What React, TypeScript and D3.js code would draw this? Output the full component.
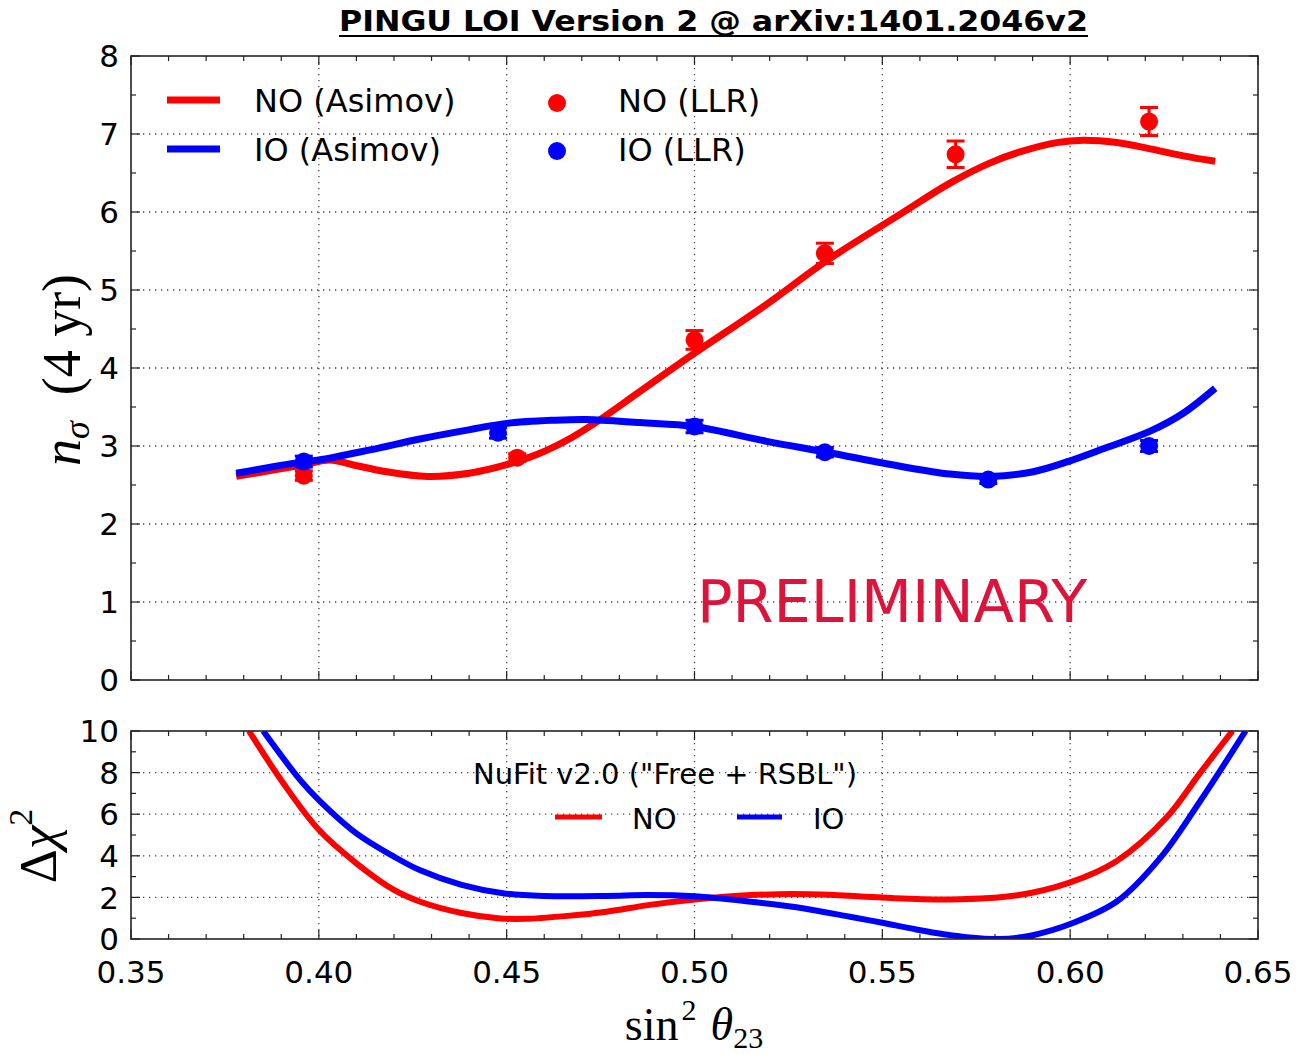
import React from "react";
import * as d3 from "d3";

// ---------- data ----------
const noAsimovX = [0.378, 0.396, 0.403, 0.409, 0.418, 0.429, 0.44, 0.45, 0.458, 0.467, 0.474, 0.4855, 0.5, 0.519, 0.535, 0.5547, 0.568, 0.5787, 0.5866, 0.5964, 0.6035, 0.6124, 0.6213, 0.6301, 0.6386];
const noAsimovY = [2.61, 2.76, 2.82, 2.76, 2.67, 2.61, 2.65, 2.76, 2.89, 3.1, 3.31, 3.7, 4.19, 4.81, 5.37, 5.97, 6.37, 6.63, 6.77, 6.89, 6.92, 6.89, 6.81, 6.72, 6.65];

const ioAsimovX = [0.378, 0.396, 0.4, 0.4136, 0.4269, 0.4402, 0.45, 0.4624, 0.4713, 0.4855, 0.5, 0.5192, 0.5352, 0.5547, 0.568, 0.5787, 0.5902, 0.6, 0.6097, 0.6213, 0.6301, 0.6386];
const ioAsimovY = [2.65, 2.8, 2.82, 2.95, 3.09, 3.21, 3.29, 3.33, 3.34, 3.3, 3.25, 3.06, 2.92, 2.74, 2.64, 2.61, 2.67, 2.81, 2.98, 3.19, 3.42, 3.74];

const noLlrX = [0.396, 0.4528, 0.5, 0.5347, 0.5695, 0.621];
const noLlrY = [2.62, 2.85, 4.36, 5.47, 6.74, 7.16];
const noLlrErr = [0.06, 0.05, 0.12, 0.13, 0.17, 0.18];

const ioLlrX = [0.396, 0.4477, 0.5, 0.5347, 0.5782, 0.621];
const ioLlrY = [2.8, 3.17, 3.25, 2.92, 2.57, 3.0];
const ioLlrErr = [0.07, 0.07, 0.08, 0.06, 0.05, 0.07];

const noChiX = [0.3814, 0.3905, 0.4, 0.41, 0.42, 0.427, 0.438, 0.4483, 0.455, 0.4655, 0.4766, 0.4876, 0.5, 0.5151, 0.5262, 0.5372, 0.55, 0.568, 0.586, 0.6, 0.6124, 0.6257, 0.6345, 0.6432];
const noChiY = [10, 7.5, 5.25, 3.64, 2.36, 1.79, 1.25, 0.99, 0.97, 1.1, 1.31, 1.63, 1.9, 2.11, 2.16, 2.11, 1.99, 1.9, 2.1, 2.72, 3.75, 5.85, 7.96, 10];

const ioChiX = [0.3852, 0.395, 0.4, 0.41, 0.42, 0.427, 0.438, 0.449, 0.46, 0.4766, 0.4876, 0.5, 0.5151, 0.5262, 0.5414, 0.55, 0.559, 0.5668, 0.5724, 0.5813, 0.5869, 0.5901, 0.6, 0.6124, 0.624, 0.6345, 0.6467];
const ioChiY = [10, 7.65, 6.68, 5.08, 3.96, 3.3, 2.6, 2.2, 2.07, 2.07, 2.11, 2.05, 1.79, 1.55, 1.07, 0.78, 0.46, 0.22, 0.09, 0.0, 0.08, 0.18, 0.72, 1.8, 3.9, 6.6, 10];

const xTicks = [0.35, 0.4, 0.45, 0.5, 0.55, 0.6, 0.65];
const xTickLabels = ["0.35", "0.40", "0.45", "0.50", "0.55", "0.60", "0.65"];
const topYTicks = [0, 1, 2, 3, 4, 5, 6, 7, 8];
const botYTicks = [0, 2, 4, 6, 8, 10];

const titleText = "PINGU LOI Version 2 @ arXiv:1401.2046v2";
const topLegend = ["NO (Asimov)", "IO (Asimov)", "NO (LLR)", "IO (LLR)"];
const botLegendTitle = 'NuFit v2.0 ("Free + RSBL")';
const botLegend = ["NO", "IO"];

const RED = "#ff0000";
const BLUE = "#0000ff";
const SANS = "DejaVu Sans, Verdana, sans-serif";
const SERIF = "Liberation Serif, Times New Roman, serif";

// ---------- layout ----------
const XL = 131, XR = 1258;
const TT = 56, TB = 680;
const BT = 731, BB = 939;

const x = d3.scaleLinear().domain([0.35, 0.65]).range([XL, XR]);
const yTop = d3.scaleLinear().domain([0, 8]).range([TB, TT]);
const yBot = d3.scaleLinear().domain([0, 10]).range([BB, BT]);

function Frame({ yScale, yMajor, yMinor, top, bottom, showX }: any) {
  const xMinor = d3.range(0.35, 0.6501, 0.01);
  const grid = "#444";
  const els: any[] = [];
  xTicks.slice(1, -1).forEach((t, i) =>
    els.push(<line key={"gx" + i} x1={x(t)} x2={x(t)} y1={top} y2={bottom} stroke={grid} strokeWidth={1.3} strokeDasharray="1.3 4.7" />)
  );
  yMajor.slice(1, -1).forEach((t: number, i: number) =>
    els.push(<line key={"gy" + i} x1={XL} x2={XR} y1={yScale(t)} y2={yScale(t)} stroke={grid} strokeWidth={1.3} strokeDasharray="1.3 4.7" />)
  );
  xMinor.forEach((t, i) => {
    const isMaj = Math.abs(Math.round(t * 20) - t * 20) < 1e-6;
    const L = isMaj ? 9 : 5;
    els.push(<line key={"xb" + i} x1={x(t)} x2={x(t)} y1={bottom} y2={bottom - L} stroke="#222" strokeWidth={1.2} />);
    els.push(<line key={"xt" + i} x1={x(t)} x2={x(t)} y1={top} y2={top + L} stroke="#222" strokeWidth={1.2} />);
  });
  yMinor.forEach((t: number, i: number) => {
    const isMaj = yMajor.includes(t);
    const L = isMaj ? 9 : 5;
    els.push(<line key={"yl" + i} x1={XL} x2={XL + L} y1={yScale(t)} y2={yScale(t)} stroke="#222" strokeWidth={1.2} />);
    els.push(<line key={"yr" + i} x1={XR} x2={XR - L} y1={yScale(t)} y2={yScale(t)} stroke="#222" strokeWidth={1.2} />);
  });
  yMajor.forEach((t: number, i: number) =>
    els.push(<text key={"yt" + i} x={119} y={yScale(t)} dy="0.36em" textAnchor="end" fontFamily={SANS} fontSize={31} fill="#000">{t}</text>)
  );
  if (showX) {
    xTicks.forEach((t, i) =>
      els.push(<text key={"xtl" + i} x={x(t)} y={983} textAnchor="middle" fontFamily={SANS} fontSize={31} fill="#000">{xTickLabels[i]}</text>)
    );
  }
  return <g>{els}</g>;
}

function ErrPts({ xs, ys, es, color }: any) {
  return (
    <g>
      {xs.map((xv: number, i: number) => {
        const cx = x(xv);
        const y1 = yTop(ys[i] + es[i]);
        const y2 = yTop(ys[i] - es[i]);
        return (
          <g key={i}>
            <line x1={cx} x2={cx} y1={y1} y2={y2} stroke={color} strokeWidth={3} />
            <line x1={cx - 9} x2={cx + 9} y1={y1} y2={y1} stroke={color} strokeWidth={3} />
            <line x1={cx - 9} x2={cx + 9} y1={y2} y2={y2} stroke={color} strokeWidth={3} />
            <circle cx={cx} cy={yTop(ys[i])} r={9} fill={color} />
          </g>
        );
      })}
    </g>
  );
}

export default function App() {
  const mk = (xs: number[], ys: number[], sy: any) =>
    d3.line<[number, number]>().curve(d3.curveCatmullRom.alpha(0.5))(xs.map((v, i) => [x(v), sy(ys[i])]) as any) || "";

  const noTop = mk(noAsimovX, noAsimovY, yTop);
  const ioTop = mk(ioAsimovX, ioAsimovY, yTop);
  const noBot = mk(noChiX, noChiY, yBot);
  const ioBot = mk(ioChiX, ioChiY, yBot);

  return (
    <svg width={1300} height={1055} style={{ position: "absolute", left: 0, top: 0, background: "#fff" }}>
      <rect width={1300} height={1055} fill="#fff" />
      <defs>
        <clipPath id="clipTop"><rect x={XL} y={TT} width={XR - XL} height={TB - TT} /></clipPath>
        <clipPath id="clipBot"><rect x={XL} y={BT} width={XR - XL} height={BB - BT} /></clipPath>
      </defs>

      {/* title */}
      <text x={713.5} y={31} textAnchor="middle" fontFamily="DejaVu Sans Condensed, DejaVu Sans, sans-serif" fontWeight="bold" fontSize={29} textLength={749} lengthAdjust="spacingAndGlyphs" fill="#000">{titleText}</text>
      <line x1={339} x2={1088} y1={36} y2={36} stroke="#000" strokeWidth={2.2} />

      {/* top panel */}
      <Frame yScale={yTop} yMajor={topYTicks} yMinor={d3.range(0, 8.01, 0.5)} top={TT} bottom={TB} showX={false} />
      <text x={697} y={622} fontFamily={SANS} fontSize={59} fill="#dc143c">PRELIMINARY</text>
      <g clipPath="url(#clipTop)">
        <path d={noTop} fill="none" stroke={RED} strokeWidth={7} strokeLinejoin="round" />
        <path d={ioTop} fill="none" stroke={BLUE} strokeWidth={7} strokeLinejoin="round" />
        <ErrPts xs={noLlrX} ys={noLlrY} es={noLlrErr} color={RED} />
        <ErrPts xs={ioLlrX} ys={ioLlrY} es={ioLlrErr} color={BLUE} />
      </g>
      <rect x={XL} y={TT} width={XR - XL} height={TB - TT} fill="none" stroke="#222" strokeWidth={1.6} />

      {/* top legend */}
      <line x1={167} x2={220} y1={100} y2={100} stroke={RED} strokeWidth={7} />
      <line x1={167} x2={220} y1={149} y2={149} stroke={BLUE} strokeWidth={7} />
      <text x={254} y={112} fontFamily={SANS} fontSize={32} fill="#000">{topLegend[0]}</text>
      <text x={254} y={161} fontFamily={SANS} fontSize={32} fill="#000">{topLegend[1]}</text>
      <circle cx={557} cy={103} r={9} fill={RED} />
      <circle cx={557} cy={151} r={9} fill={BLUE} />
      <text x={618} y={112} fontFamily={SANS} fontSize={32} fill="#000">{topLegend[2]}</text>
      <text x={618} y={161} fontFamily={SANS} fontSize={32} fill="#000">{topLegend[3]}</text>

      {/* top y label */}
      <text transform="translate(80,370) rotate(-90)" textAnchor="middle" fontFamily={SERIF} fontSize={54} fill="#000">
        <tspan fontStyle="italic">n</tspan>
        <tspan fontStyle="italic" fontSize={36} dy={9}>σ</tspan>
        <tspan dy={-9} dx={26}>(4 yr)</tspan>
      </text>

      {/* bottom panel */}
      <Frame yScale={yBot} yMajor={botYTicks} yMinor={d3.range(0, 10.01, 1)} top={BT} bottom={BB} showX={true} />
      <g clipPath="url(#clipBot)">
        <path d={noBot} fill="none" stroke={RED} strokeWidth={6} strokeLinejoin="round" />
        <path d={ioBot} fill="none" stroke={BLUE} strokeWidth={6} strokeLinejoin="round" />
      </g>
      <rect x={XL} y={BT} width={XR - XL} height={BB - BT} fill="none" stroke="#222" strokeWidth={1.6} />

      {/* bottom legend */}
      <text x={665} y={784} textAnchor="middle" fontFamily={SANS} fontSize={29} fill="#000">{botLegendTitle}</text>
      <line x1={555} x2={602} y1={817} y2={817} stroke={RED} strokeWidth={5} />
      <text x={632} y={829} fontFamily={SANS} fontSize={29} fill="#000">{botLegend[0]}</text>
      <line x1={737} x2={782} y1={817} y2={817} stroke={BLUE} strokeWidth={5} />
      <text x={813} y={829} fontFamily={SANS} fontSize={29} fill="#000">{botLegend[1]}</text>

      {/* bottom y label */}
      <text transform="translate(56,846) rotate(-90)" textAnchor="middle" fontFamily={SERIF} fontSize={53} fill="#000">
        <tspan>Δ</tspan>
        <tspan fontStyle="italic">χ</tspan>
        <tspan fontSize={34} dy={-24}>2</tspan>
      </text>

      {/* x label */}
      <text x={694} y={1040} textAnchor="middle" fontFamily={SERIF} fontSize={46} fill="#000">
        <tspan>sin</tspan>
        <tspan fontSize={30} dy={-20} dx={3}>2</tspan>
        <tspan fontStyle="italic" dy={20} dx={14}>θ</tspan>
        <tspan fontSize={30} dy={8}>23</tspan>
      </text>
    </svg>
  );
}
